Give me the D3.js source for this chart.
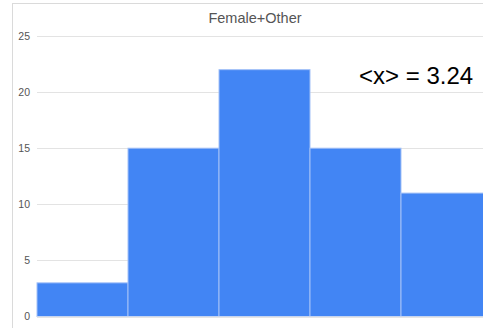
<!DOCTYPE html>
<html>
<head>
<meta charset="utf-8">
<script src="https://cdn.jsdelivr.net/npm/d3@7"></script>
<style>
  html, body { margin: 0; padding: 0; background: #fff; }
  svg { display: block; font-family: "Liberation Sans", Arial, sans-serif; }
</style>
</head>
<body>
<svg id="chart" width="483" height="328"></svg>
<script>
// Histogram bins (counts per bin)
const bins = [0, 1, 2, 3, 4];
const counts = [3, 15, 22, 15, 11];
const yTicks = [0, 5, 10, 15, 20, 25];
const title = "Female+Other";
const annotation = "<x> = 3.24";

const svg = d3.select("#chart");

// Outer chart frame
svg.append("rect")
  .attr("x", 12.5).attr("y", 3.5)
  .attr("width", 500).attr("height", 340)
  .attr("fill", "none").attr("stroke", "#dadada");

const x = d3.scaleLinear().domain([0, bins.length]).range([37, 492]);
const y = d3.scaleLinear().domain([0, 25]).range([316.5, 36]);

// Horizontal gridlines
svg.append("g")
  .selectAll("line")
  .data(yTicks)
  .join("line")
  .attr("x1", x(0)).attr("x2", 483)
  .attr("y1", d => Math.round(y(d)) + 0.5)
  .attr("y2", d => Math.round(y(d)) + 0.5)
  .attr("stroke", "#e3e3e3");

// Y axis labels
const yAxis = d3.axisLeft(y).tickValues(yTicks).tickSize(0).tickPadding(7);
svg.append("g")
  .attr("transform", `translate(${x(0)},0)`)
  .call(yAxis)
  .call(g => g.select(".domain").remove())
  .call(g => g.selectAll("text")
    .attr("fill", "#555")
    .attr("font-size", "10.5px")
    .attr("font-family", "Liberation Sans, Arial, sans-serif"));

// Bars
svg.append("g")
  .selectAll("rect")
  .data(bins)
  .join("rect")
  .attr("x", d => x(d))
  .attr("width", d => x(d + 1) - x(d))
  .attr("y", (d, i) => y(counts[i]))
  .attr("height", (d, i) => y(0) - y(counts[i]))
  .attr("fill", "#4285f4")
  .attr("stroke", "#a3c1f7")
  .attr("stroke-width", 1);

// Baseline
svg.append("line")
  .attr("x1", x(0)).attr("x2", 483)
  .attr("y1", y(0) + 0.5).attr("y2", y(0) + 0.5)
  .attr("stroke", "#e8e8e8");

// Title
svg.append("text")
  .attr("x", 255).attr("y", 22.5)
  .attr("text-anchor", "middle")
  .attr("font-size", "14.5px")
  .attr("fill", "#555")
  .text(title);

// Mean annotation
svg.append("text")
  .attr("x", 359).attr("y", 84)
  .attr("font-size", "24px")
  .attr("fill", "#000")
  .text(annotation);
</script>
</body>
</html>
